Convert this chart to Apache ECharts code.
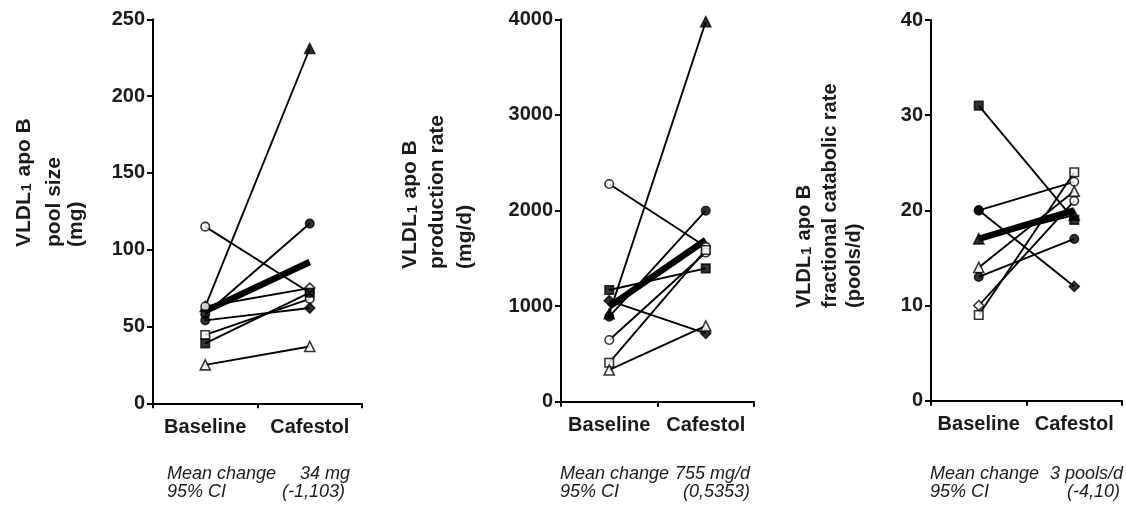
<!DOCTYPE html>
<html>
<head>
<meta charset="utf-8">
<script src="https://cdn.jsdelivr.net/npm/echarts/dist/echarts.min.js"></script>
<style>
html,body{margin:0;padding:0;background:#fff;}
#chart{width:1126px;height:508px;}
</style>
</head>
<body>
<div id="chart"></div>
<script>
// ---------- data ----------
const categories = ['Baseline', 'Cafestol'];

// Panel 1: VLDL1 apo B pool size (mg)
const poolBaseline = [63, 115, 63, 58, 54, 44.5, 39, 25];
const poolCafestol = [231, 72, 75, 117, 62, 68, 72, 37];
const poolMean = [60, 92];
const poolTicks = [0, 50, 100, 150, 200, 250];

// Panel 2: VLDL1 apo B production rate (mg/d)
const prodBaseline = [920, 2277, 890, 1168, 1057, 645, 408, 332];
const prodCafestol = [3975, 1620, 1998, 1395, 715, 1560, 1587, 792];
const prodMean = [994, 1691];
const prodTicks = [0, 1000, 2000, 3000, 4000];

// Panel 3: VLDL1 apo B fractional catabolic rate (pools/d)
const fcrBaseline = [31, 20, 20, 17, 14, 13, 10, 9];
const fcrCafestol = [19, 12, 23, 19.5, 22, 17, 21, 24];
const fcrMean = [17, 20];
const fcrTicks = [0, 10, 20, 30, 40];

// marker codes per subject (shape-fill)
const poolMarkB = ['tri-f','circ-o','circ-o','circ-f','circ-f','rect-o','rect-f','tri-o'];
const poolMarkC = ['tri-f','circ-o','diam-o','circ-f','diam-f','circ-o','rect-f','tri-o'];
const prodMarkB = ['tri-f','circ-o','circ-f','rect-f','diam-f','circ-o','rect-o','tri-o'];
const prodMarkC = ['tri-f','circ-o','circ-f','rect-f','diam-f','circ-o','rect-o','tri-o'];
const fcrMarkB = ['rect-f','circ-f','circ-f','tri-f','tri-o','circ-f','diam-o','rect-o'];
const fcrMarkC = ['rect-f','diam-f','circ-o','tri-f','tri-o','circ-f','circ-o','rect-o'];

const notes = [
  ['Mean change', '34 mg', '95% CI', '(-1,103)'],
  ['Mean change', '755 mg/d', '95% CI', '(0,5353)'],
  ['Mean change', '3 pools/d', '95% CI', '(-4,10)']
];
const titles = [
  ['pool size', '(mg)'],
  ['production rate', '(mg/d)'],
  ['fractional catabolic rate', '(pools/d)']
];

// ---------- layout / style ----------
const FONT = 'Liberation Sans, Arial, Helvetica, sans-serif';
const INK = '#1a1a1a';
const grids = [
  {left: 153, top: 19.3, width: 209, height: 384},
  {left: 561, top: 19.3, width: 193, height: 382.4},
  {left: 931, top: 20, width: 191, height: 380.7}
];
const panels = [
  {b: poolBaseline, c: poolCafestol, mean: poolMean, ticks: poolTicks, mb: poolMarkB, mc: poolMarkC},
  {b: prodBaseline, c: prodCafestol, mean: prodMean, ticks: prodTicks, mb: prodMarkB, mc: prodMarkC},
  {b: fcrBaseline, c: fcrCafestol, mean: fcrMean, ticks: fcrTicks, mb: fcrMarkB, mc: fcrMarkC}
];
const shapeMap = {tri: 'triangle', circ: 'circle', rect: 'rect', diam: 'diamond'};
const sizeMap = {tri: 10, circ: 8.5, rect: 8.5, diam: 10};

function markerItem(x, v, code) {
  const [shape, fill] = code.split('-');
  return {
    value: [x, v],
    symbol: shapeMap[shape],
    symbolSize: sizeMap[shape],
    itemStyle: {color: fill === 'f' ? '#000' : '#fff', borderColor: '#000', borderWidth: 1.6}
  };
}

const xAxes = [], yAxes = [], series = [], graphics = [];
panels.forEach((p, i) => {
  const ticks = p.ticks;
  xAxes.push({
    type: 'category', gridIndex: i, data: categories, boundaryGap: true,
    axisLine: {lineStyle: {color: '#000', width: 2}},
    axisTick: {show: true, interval: 0, length: 5, lineStyle: {color: '#000', width: 2}},
    axisLabel: {interval: 0, hideOverlap: false, color: INK, fontFamily: FONT, fontWeight: 'bold', fontSize: 20, margin: 14}
  });
  yAxes.push({
    type: 'value', gridIndex: i, min: ticks[0], max: ticks[ticks.length - 1],
    interval: ticks[1] - ticks[0],
    axisLine: {show: true, lineStyle: {color: '#000', width: 2}},
    axisTick: {show: true, length: 6, lineStyle: {color: '#000', width: 2}},
    splitLine: {show: false},
    axisLabel: {color: INK, fontFamily: FONT, fontWeight: 'bold', fontSize: 20, margin: 8,
      formatter: v => String(v)}
  });
  p.b.forEach((bv, k) => {
    series.push({
      type: 'line', xAxisIndex: i, yAxisIndex: i, data: [bv, p.c[k]],
      showSymbol: false, symbol: 'none', lineStyle: {color: '#000', width: 1.9}, z: 2, silent: true
    });
  });
  series.push({
    type: 'line', xAxisIndex: i, yAxisIndex: i, data: p.mean, symbol: 'none',
    lineStyle: {color: '#000', width: 6.5, cap: 'butt'}, z: 3, silent: true
  });
  const pts = [];
  p.b.forEach((bv, k) => {
    pts.push(markerItem(0, bv, p.mb[k]));
    pts.push(markerItem(1, p.c[k], p.mc[k]));
  });
  series.push({type: 'scatter', xAxisIndex: i, yAxisIndex: i, data: pts, z: 4, silent: true});
});

// y-axis titles (rotated, three lines)
const titlePos = [
  {x: [22.5, 54, 76], y: 247, fs: 21},
  {x: [408.5, 437, 465], y: 269, fs: 21},
  {x: [802, 830.5, 854.5], y: 308, fs: 20}
];
titlePos.forEach((tp, i) => {
  graphics.push({
    type: 'text', x: tp.x[0], y: tp.y, rotation: Math.PI / 2,
    style: {
      text: '{a|VLDL}{s|1}{a| apo B}',
      align: 'left', verticalAlign: 'middle',
      rich: {
        a: {fontFamily: FONT, fontWeight: 'bold', fontSize: tp.fs, fill: INK, lineHeight: 24, verticalAlign: 'bottom'},
        s: {fontFamily: FONT, fontWeight: 'bold', fontSize: 14, fill: INK, lineHeight: 8, verticalAlign: 'bottom', padding: [0, 1, 0, 1]}
      }
    }
  });
  titles[i].forEach((t, j) => {
    graphics.push({
      type: 'text', x: tp.x[j + 1], y: tp.y, rotation: Math.PI / 2,
      style: {text: t, align: 'left', verticalAlign: 'middle', fontFamily: FONT, fontWeight: 'bold', fontSize: tp.fs, fill: INK}
    });
  });
});

// footnotes
const notePos = [
  {l: 167, r1: 350, r2: 345},
  {l: 560, r1: 750, r2: 750},
  {l: 930, r1: 1123, r2: 1120}
];
notePos.forEach((np, i) => {
  const n = notes[i];
  const st = {fontFamily: FONT, fontStyle: 'italic', fontSize: 18, fill: INK, verticalAlign: 'middle'};
  graphics.push({type: 'text', x: np.l, y: 474, style: Object.assign({text: n[0], align: 'left'}, st)});
  graphics.push({type: 'text', x: np.r1, y: 474, style: Object.assign({text: n[1], align: 'right'}, st)});
  graphics.push({type: 'text', x: np.l, y: 492, style: Object.assign({text: n[2], align: 'left'}, st)});
  graphics.push({type: 'text', x: np.r2, y: 492, style: Object.assign({text: n[3], align: 'right'}, st)});
});

const chart = echarts.init(document.getElementById('chart'), null, {renderer: 'canvas'});
chart.setOption({
  animation: false,
  backgroundColor: '#fff',
  grid: grids.map(g => Object.assign({containLabel: false, outerBoundsMode: 'none'}, g)),
  xAxis: xAxes,
  yAxis: yAxes,
  series: series,
  graphic: graphics
});
</script>
</body>
</html>
